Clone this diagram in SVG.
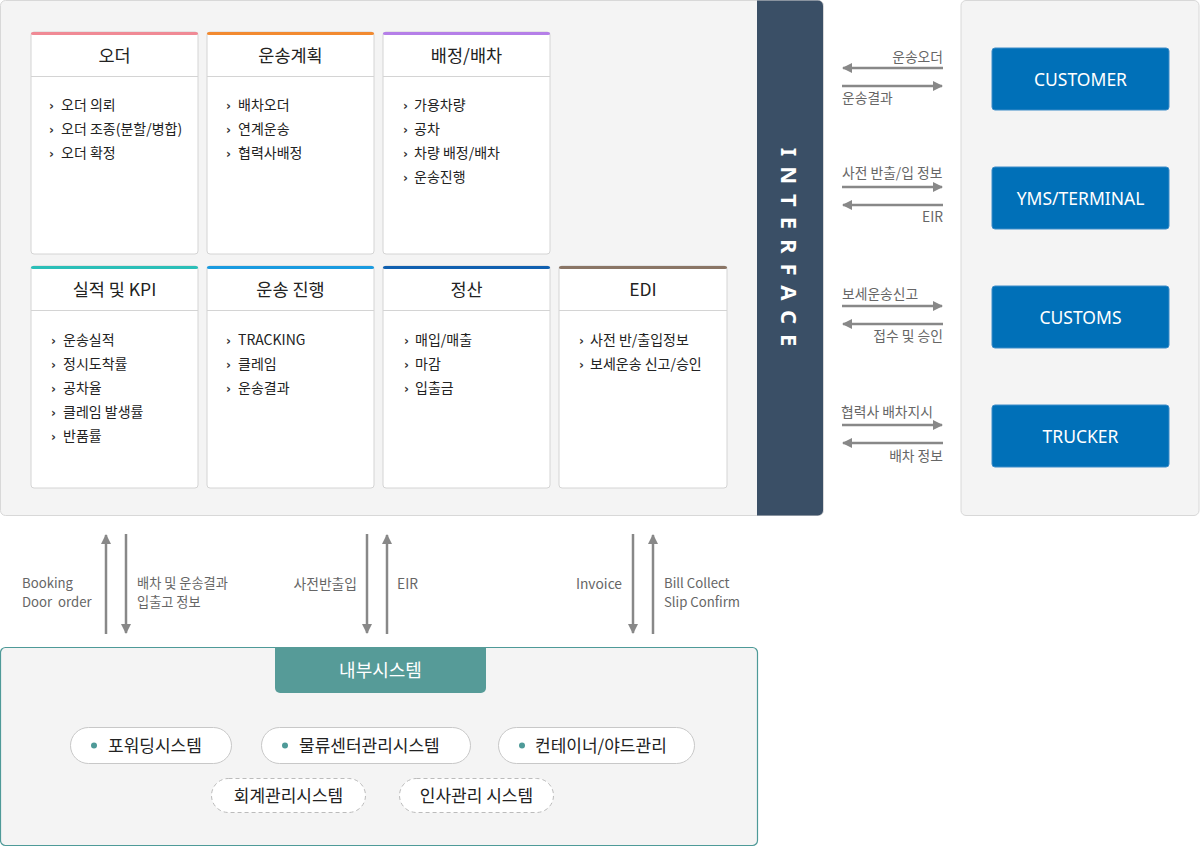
<svg xmlns="http://www.w3.org/2000/svg" width="1200" height="847" viewBox="0 0 1200 847">
<defs>
<marker id="ah" viewBox="0 0 10 10" refX="9" refY="5" markerWidth="4" markerHeight="4" orient="auto-start-reverse" markerUnits="strokeWidth">
<path d="M0,0 L10,5 L0,10 z" fill="#888"/>
</marker>
<style>
.panel{fill:#f4f4f4;stroke:#d8d8d8;stroke-width:1}
.card{fill:#fff;stroke:#d4d4d4;stroke-width:1}
.sep{stroke:#d4d4d4;stroke-width:1}
.ttl{font-family:"Noto Sans CJK KR","Noto Sans",sans-serif;font-size:17.5px;fill:#222;text-anchor:middle}
.it{font-family:"Noto Sans CJK KR","Noto Sans",sans-serif;font-size:14px;fill:#222}
.chev{font-family:"DejaVu Sans",sans-serif;font-size:12px;font-weight:bold;fill:#333}
.lbl{font-family:"Noto Sans CJK KR","Noto Sans",sans-serif;font-size:13.8px;fill:#666}
.lbl2{font-family:"Noto Sans CJK KR","Noto Sans",sans-serif;font-size:13.2px;fill:#666}
.ext{fill:#0070b8;stroke:#3d8cc8;stroke-width:1}
.extt{font-family:"Noto Sans","Noto Sans CJK KR",sans-serif;font-size:17.5px;fill:#fff;text-anchor:middle}
.ar{stroke:#888;stroke-width:2.5;fill:none;marker-end:url(#ah)}
.pill{fill:#fff;stroke:#c8c8c8;stroke-width:1}
.pilld{fill:#fff;stroke:#bbb;stroke-width:1;stroke-dasharray:4 3}
.pt{font-family:"Noto Sans CJK KR","Noto Sans",sans-serif;font-size:17px;fill:#222}
.dot{fill:#4e9a98}
</style>
</defs>

<g id="main-panel">
<rect class="panel" x="0.5" y="0.5" width="823" height="515" rx="5"/>
</g>

<g id="interface">
<path d="M757,0.5 H818 a5,5 0 0 1 5,5 V510.5 a5,5 0 0 1 -5,5 H757 Z" fill="#3a4f66"/>
<text transform="translate(781,252) rotate(90)" font-family="'Noto Sans','DejaVu Sans',sans-serif" font-size="22" font-weight="bold" fill="#fff" text-anchor="middle" letter-spacing="10">INTERFACE</text>
</g>

<g id="card-order">
<rect class="card" x="31" y="32" width="167" height="222" rx="3"/>
<rect x="31" y="32" width="167" height="3" rx="2" fill="#f08a95"/>
<line class="sep" x1="31" y1="76.5" x2="198" y2="76.5"/>
<text class="ttl" x="114.5" y="62">오더</text>
<text class="chev" x="49" y="110">›</text><text class="it" x="61" y="110">오더 의뢰</text>
<text class="chev" x="49" y="134">›</text><text class="it" x="61" y="134">오더 조종(분할/병합)</text>
<text class="chev" x="49" y="158">›</text><text class="it" x="61" y="158">오더 확정</text>
</g>

<g id="card-plan">
<rect class="card" x="207" y="32" width="167" height="222" rx="3"/>
<rect x="207" y="32" width="167" height="3" rx="2" fill="#f28a30"/>
<line class="sep" x1="207" y1="76.5" x2="374" y2="76.5"/>
<text class="ttl" x="290.5" y="62">운송계획</text>
<text class="chev" x="226" y="110">›</text><text class="it" x="238" y="110">배차오더</text>
<text class="chev" x="226" y="134">›</text><text class="it" x="238" y="134">연계운송</text>
<text class="chev" x="226" y="158">›</text><text class="it" x="238" y="158">협력사배정</text>
</g>

<g id="card-assign">
<rect class="card" x="383" y="32" width="167" height="222" rx="3"/>
<rect x="383" y="32" width="167" height="3" rx="2" fill="#b57fe8"/>
<line class="sep" x1="383" y1="76.5" x2="550" y2="76.5"/>
<text class="ttl" x="466.5" y="62">배정/배차</text>
<text class="chev" x="403" y="110">›</text><text class="it" x="414" y="110">가용차량</text>
<text class="chev" x="403" y="134">›</text><text class="it" x="414" y="134">공차</text>
<text class="chev" x="403" y="158">›</text><text class="it" x="414" y="158">차량 배정/배차</text>
<text class="chev" x="403" y="182">›</text><text class="it" x="414" y="182">운송진행</text>
</g>

<g id="card-kpi">
<rect class="card" x="31" y="266" width="167" height="222" rx="3"/>
<rect x="31" y="266" width="167" height="3" rx="2" fill="#2bbfb8"/>
<line class="sep" x1="31" y1="310.5" x2="198" y2="310.5"/>
<text class="ttl" x="114.5" y="296">실적 및 KPI</text>
<text class="chev" x="51" y="345">›</text><text class="it" x="63" y="345">운송실적</text>
<text class="chev" x="51" y="369">›</text><text class="it" x="63" y="369">정시도착률</text>
<text class="chev" x="51" y="393">›</text><text class="it" x="63" y="393">공차율</text>
<text class="chev" x="51" y="417">›</text><text class="it" x="63" y="417">클레임 발생률</text>
<text class="chev" x="51" y="441">›</text><text class="it" x="63" y="441">반품률</text>
</g>

<g id="card-progress">
<rect class="card" x="207" y="266" width="167" height="222" rx="3"/>
<rect x="207" y="266" width="167" height="3" rx="2" fill="#1a9be0"/>
<line class="sep" x1="207" y1="310.5" x2="374" y2="310.5"/>
<text class="ttl" x="290.5" y="296">운송 진행</text>
<text class="chev" x="226" y="345">›</text><text class="it" x="238" y="345">TRACKING</text>
<text class="chev" x="226" y="369">›</text><text class="it" x="238" y="369">클레임</text>
<text class="chev" x="226" y="393">›</text><text class="it" x="238" y="393">운송결과</text>
</g>

<g id="card-settle">
<rect class="card" x="383" y="266" width="167" height="222" rx="3"/>
<rect x="383" y="266" width="167" height="3" rx="2" fill="#1060b0"/>
<line class="sep" x1="383" y1="310.5" x2="550" y2="310.5"/>
<text class="ttl" x="466.5" y="296">정산</text>
<text class="chev" x="404" y="345">›</text><text class="it" x="415" y="345">매입/매출</text>
<text class="chev" x="404" y="369">›</text><text class="it" x="415" y="369">마감</text>
<text class="chev" x="404" y="393">›</text><text class="it" x="415" y="393">입출금</text>
</g>

<g id="card-edi">
<rect class="card" x="559" y="266" width="168" height="222" rx="3"/>
<rect x="559" y="266" width="168" height="3" rx="2" fill="#8a7565"/>
<line class="sep" x1="559" y1="310.5" x2="727" y2="310.5"/>
<text class="ttl" x="643" y="296">EDI</text>
<text class="chev" x="579" y="345">›</text><text class="it" x="590" y="345">사전 반/출입정보</text>
<text class="chev" x="579" y="369">›</text><text class="it" x="590" y="369">보세운송 신고/승인</text>
</g>

<g id="external-panel">
<rect class="panel" x="961" y="0.5" width="238" height="515" rx="5"/>
</g>
<g id="customer">
<rect class="ext" x="992" y="48" width="177" height="62" rx="3"/>
<text class="extt" x="1080.5" y="86">CUSTOMER</text>
</g>
<g id="yms">
<rect class="ext" x="992" y="167" width="177" height="62" rx="3"/>
<text class="extt" x="1080.5" y="205">YMS/TERMINAL</text>
</g>
<g id="customs">
<rect class="ext" x="992" y="286" width="177" height="62" rx="3"/>
<text class="extt" x="1080.5" y="324">CUSTOMS</text>
</g>
<g id="trucker">
<rect class="ext" x="992" y="405" width="177" height="62" rx="3"/>
<text class="extt" x="1080.5" y="443">TRUCKER</text>
</g>

<g id="internal">
<rect x="0.5" y="647.5" width="757" height="198" rx="5" fill="#f4f4f4" stroke="#4e9a98" stroke-width="1.2"/>
<path d="M275,647 H486 V688 a5,5 0 0 1 -5,5 H280 a5,5 0 0 1 -5,-5 Z" fill="#569b98"/>
<text x="380.5" y="677" font-family="'Noto Sans CJK KR','Noto Sans',sans-serif" font-size="18" fill="#fff" text-anchor="middle">내부시스템</text>
</g>
<g id="forwarding">
<rect class="pill" x="70.5" y="727.5" width="161" height="36" rx="18"/>
<circle class="dot" cx="94" cy="745.5" r="3"/>
<text class="pt" x="108" y="751.5">포워딩시스템</text>
</g>
<g id="logistics-center">
<rect class="pill" x="261.5" y="727.5" width="209" height="36" rx="18"/>
<circle class="dot" cx="285" cy="745.5" r="3"/>
<text class="pt" x="299" y="751.5">물류센터관리시스템</text>
</g>
<g id="container-yard">
<rect class="pill" x="498.5" y="727.5" width="196" height="36" rx="18"/>
<circle class="dot" cx="522" cy="745.5" r="3"/>
<text class="pt" x="535" y="751.5">컨테이너/야드관리</text>
</g>
<g id="accounting">
<rect class="pilld" x="211.5" y="778.5" width="154" height="34" rx="17"/>
<text class="pt" x="288.5" y="801.5" text-anchor="middle">회계관리시스템</text>
</g>
<g id="hr">
<rect class="pilld" x="399.5" y="778.5" width="154" height="34" rx="17"/>
<text class="pt" x="476.5" y="801.5" text-anchor="middle">인사관리 시스템</text>
</g>

<g id="connectors">
<line class="ar" x1="943" y1="68" x2="843" y2="68"/>
<line class="ar" x1="842" y1="86" x2="942" y2="86"/>
<line class="ar" x1="842" y1="187" x2="942" y2="187"/>
<line class="ar" x1="943" y1="205" x2="843" y2="205"/>
<line class="ar" x1="842" y1="306" x2="942" y2="306"/>
<line class="ar" x1="943" y1="324" x2="843" y2="324"/>
<line class="ar" x1="842" y1="425" x2="942" y2="425"/>
<line class="ar" x1="943" y1="443" x2="843" y2="443"/>

<line class="ar" x1="106" y1="634" x2="106" y2="535"/>
<line class="ar" x1="126" y1="534" x2="126" y2="633"/>
<line class="ar" x1="367" y1="534" x2="367" y2="633"/>
<line class="ar" x1="387" y1="634" x2="387" y2="535"/>
<line class="ar" x1="633" y1="534" x2="633" y2="633"/>
<line class="ar" x1="653" y1="634" x2="653" y2="535"/>

<text class="lbl" x="943" y="62" text-anchor="end">운송오더</text>
<text class="lbl" x="842" y="103">운송결과</text>
<text class="lbl" x="842" y="178">사전 반출/입 정보</text>
<text class="lbl" x="943" y="222" text-anchor="end">EIR</text>
<text class="lbl" x="842" y="299">보세운송신고</text>
<text class="lbl" x="943" y="341" text-anchor="end">접수 및 승인</text>
<text class="lbl" x="841" y="417">협력사 배차지시</text>
<text class="lbl" x="943" y="461" text-anchor="end">배차 정보</text>

<text class="lbl2" xml:space="preserve"><tspan x="22" y="588">Booking</tspan><tspan x="22" y="607">Door  order</tspan></text>
<text class="lbl2"><tspan x="137" y="588">배차 및 운송결과</tspan><tspan x="137" y="607">입출고 정보</tspan></text>
<text class="lbl" x="357" y="589" text-anchor="end">사전반출입</text>
<text class="lbl" x="397" y="589">EIR</text>
<text class="lbl" x="622" y="589" text-anchor="end">Invoice</text>
<text class="lbl2"><tspan x="664" y="588">Bill Collect</tspan><tspan x="664" y="607">Slip Confirm</tspan></text>
</g>
</svg>
